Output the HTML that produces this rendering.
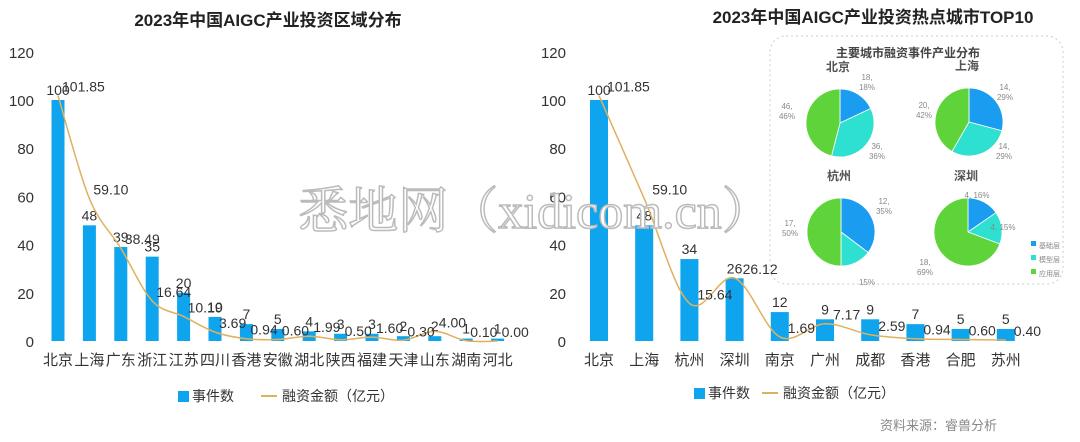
<!DOCTYPE html>
<html><head><meta charset="utf-8"><style>
body{margin:0;background:#fff}
svg{display:block;font-family:"Liberation Sans","Noto Sans CJK SC",sans-serif}
</style></head><body>
<svg id="s" width="1080" height="442" viewBox="0 0 1080 442" xmlns="http://www.w3.org/2000/svg">
<text x="268" y="26" font-size="17" font-weight="bold" text-anchor="middle" fill="#222">2023年中国AIGC产业投资区域分布</text>
<text x="873" y="23" font-size="17" font-weight="bold" text-anchor="middle" fill="#222">2023年中国AIGC产业投资热点城市TOP10</text>
<rect x="770" y="36" width="293" height="248" rx="16" fill="none" stroke="#ccc" stroke-dasharray="2,3"/>
<text x="908" y="57" font-size="12" font-weight="bold" text-anchor="middle" fill="#444">主要城市融资事件产业分布</text>
<g id="g"></g>
<g font-size="14" fill="#333">
<rect x="178" y="391" width="11" height="11" fill="#0ea5ee"/><text x="192" y="401">事件数</text>
<line x1="261" y1="396" x2="277" y2="396" stroke="#e0b060" stroke-width="2"/><text x="282" y="401">融资金额（亿元）</text>
<rect x="694" y="388" width="11" height="11" fill="#0ea5ee"/><text x="708" y="398">事件数</text>
<line x1="762" y1="393" x2="778" y2="393" stroke="#e0b060" stroke-width="2"/><text x="783" y="398">融资金额（亿元）</text>
</g>
<text x="880" y="430" font-size="13" fill="#888">资料来源：睿兽分析</text>
<text x="535" y="228" font-size="50" text-anchor="middle" fill="#fff" stroke="#bbb" stroke-width="1.5" font-family="Liberation Serif,Noto Serif CJK SC,serif">悉地网（xidicom.cn）</text>
</svg>
<script>
var g=document.getElementById('g'),h='';
function smooth(p){var d='M'+p[0][0]+','+p[0][1];
 for(var i=0;i<p.length-1;i++){var p0=p[i-1]||p[i],p1=p[i],p2=p[i+1],p3=p[i+2]||p2;
  d+=' C'+(p1[0]+(p2[0]-p0[0])/6)+','+(p1[1]+(p2[1]-p0[1])/6)+' '+(p2[0]-(p3[0]-p1[0])/6)+','+(p2[1]-(p3[1]-p1[1])/6)+' '+p2[0]+','+p2[1];}
 return d;}
function chart(o){
 var y0=341,k=2.41;
 [0,20,40,60,80,100,120].forEach(function(v){h+='<text x="'+o.ax+'" y="'+(y0-v*k+6)+'" font-size="15" text-anchor="end" fill="#333">'+v+'</text>';});
 var pts=[];
 o.c.forEach(function(c,i){var x=o.x0+i*o.st,b=o.b[i];
  h+='<rect x="'+(x-o.bw/2)+'" y="'+(y0-b*k)+'" width="'+o.bw+'" height="'+(b*k)+'" fill="#0ea5ee"/>';
  h+='<text x="'+x+'" y="'+(y0-b*k-5)+'" font-size="14" text-anchor="middle" fill="#333">'+b+'</text>';
  h+='<text x="'+x+'" y="365" font-size="15" text-anchor="middle" fill="#333">'+c+'</text>';
  pts.push([x,y0-o.l[i]*k]);});
 h+='<path d="'+smooth(pts)+'" fill="none" stroke="#e0b060" stroke-width="1.5"/>';
 pts.forEach(function(p,i){h+='<text x="'+(p[0]+o.lx)+'" y="'+Math.min(p[1]-4,344)+'" font-size="14" fill="#333">'+o.l[i].toFixed(2)+'</text>';});
}
chart({ax:34,x0:58,st:31.4,bw:13,lx:4,c:['北京','上海','广东','浙江','江苏','四川','香港','安徽','湖北','陕西','福建','天津','山东','湖南','河北'],
 b:[100,48,39,35,20,10,7,5,4,3,3,2,2,1,1],l:[101.85,59.10,38.49,16.64,10.19,3.69,0.94,0.60,1.99,0.50,1.60,0.30,4.00,0.10,0.00]});
chart({ax:566,x0:599,st:45.2,bw:18,lx:8,c:['北京','上海','杭州','深圳','南京','广州','成都','香港','合肥','苏州'],
 b:[100,48,34,26,12,9,9,7,5,5],l:[101.85,59.10,15.64,26.12,1.69,7.17,2.59,0.94,0.60,0.40]});
var cols=['#1a9df0','#2ee0d0','#5fd43a'];
function pie(cx,cy,name,v,labs){
 h+='<text x="'+(cx-2)+'" y="'+(cy-52)+'" font-size="12" font-weight="bold" text-anchor="middle" fill="#555">'+name+'</text>';
 var t=v[0]+v[1]+v[2],a=-Math.PI/2,r=34;
 v.forEach(function(x,i){var b=a+x/t*2*Math.PI;
  var d='M'+cx+','+cy+' L'+(cx+r*Math.cos(a))+','+(cy+r*Math.sin(a))+' A'+r+','+r+' 0 '+(b-a>Math.PI?1:0)+' 1 '+(cx+r*Math.cos(b))+','+(cy+r*Math.sin(b))+' Z';
  h+='<path d="'+d+'" fill="'+cols[i]+'" stroke="#fff" stroke-width="0.8"/>';a=b;});
 labs.forEach(function(l){h+='<text x="'+l[0]+'" y="'+l[1]+'" font-size="8" fill="#888" text-anchor="middle">'+l[2]+'</text>';});
}
pie(840,123,'北京',[18,36,46],[[867,80,'18,'],[867,90,'18%'],[877,149,'36,'],[877,159,'36%'],[787,109,'46,'],[787,119,'46%']]);
pie(969,122,'上海',[14,14,20],[[1005,90,'14,'],[1005,100,'29%'],[1004,149,'14,'],[1004,159,'29%'],[924,108,'20,'],[924,118,'42%']]);
pie(841,232,'杭州',[12,5,17],[[884,204,'12,'],[884,214,'35%'],[867,285,'15%'],[790,226,'17,'],[790,236,'50%']]);
pie(968,232,'深圳',[4,4,18],[[977,198,'4, 16%'],[1003,230,'4, 15%'],[925,265,'18,'],[925,275,'69%']]);
[['基础层',0,248],['模型层',1,262],['应用层',2,276]].forEach(function(l){h+='<rect x="1031" y="'+(l[2]-7)+'" width="5" height="5" fill="'+cols[l[1]]+'"/><text x="1039" y="'+l[2]+'" font-size="7" fill="#888">'+l[0]+'</text>';});
g.innerHTML=h;
</script>
</body></html>
